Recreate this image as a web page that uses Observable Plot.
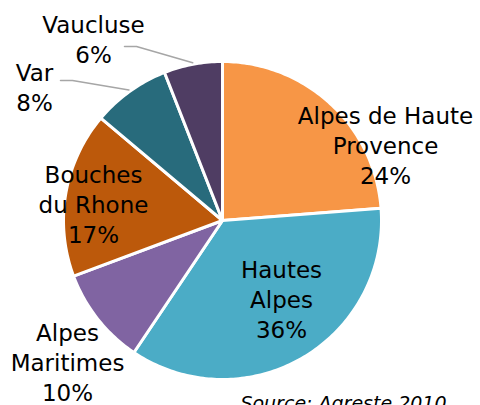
<!DOCTYPE html>
<html><head><meta charset="utf-8">
<script src="https://cdn.jsdelivr.net/npm/d3@7"></script>
<script src="https://cdn.jsdelivr.net/npm/@observablehq/plot@0.6"></script>
<style>body{margin:0;background:#fff}</style>
</head><body><div id="chart"></div>
<script>
const names = ["Alpes de Haute Provence","Hautes Alpes","Alpes Maritimes","Bouches du Rhone","Var","Vaucluse"];
const labelNames = ["Alpes de Haute\nProvence","Hautes\nAlpes","Alpes\nMaritimes","Bouches\ndu Rhone","Var","Vaucluse"];
const values = [24,36,10,17,8,6];
const colors = ["#F79646","#4BACC6","#8064A2","#BC590B","#286B7C","#4F3D63"];
const source = "Source: Agreste 2010";

// layout (pixel positions of label centres, leader starts)
const cx = 222, cy = 220, R = 159;
const labelPx = [[385,144],[281,298],[67,361],[93,203],[34,86],[93,38]];
const leaderStartPx = [null,null,null,null,[60,80],[124,46]];
const toU = ([px,py]) => [(px-cx)/R, (cy-py)/R];

const total = d3.sum(values);
let cum = 0;
const slices = values.map((v,i) => {
  const a0 = cum/total*2*Math.PI; cum += v;
  const a1 = cum/total*2*Math.PI;
  return {name: names[i], a0, a1, mid:(a0+a1)/2, value:v};
});
const pts = [];
for (const s of slices) {
  pts.push({name:s.name, x:0, y:0});
  const n = Math.max(2, Math.ceil((s.a1-s.a0)/(Math.PI/180)));
  for (let k=0;k<=n;k++){ const a = s.a0 + (s.a1-s.a0)*k/n; pts.push({name:s.name, x:Math.sin(a), y:Math.cos(a)}); }
  pts.push({name:s.name, x:0, y:0});
}
const labels = slices.map((s,i) => { const [x,y] = toU(labelPx[i]); return {x,y,text: labelNames[i]+"\n"+s.value+"%"}; });
const leaders = [];
slices.forEach((s,i) => {
  if (!leaderStartPx[i]) return;
  const [x0,y0] = toU(leaderStartPx[i]);
  leaders.push({id:i,x:x0,y:y0});
  leaders.push({id:i,x:x0+12/R,y:y0});
  leaders.push({id:i,x:Math.sin(s.mid)*1.01,y:Math.cos(s.mid)*1.01});
});

const chart = Plot.plot({
  width:480, height:405, margin:0,
  style:{fontFamily:"DejaVu Sans", background:"#fff"},
  x:{domain:[-1,1], range:[cx-R,cx+R], axis:null},
  y:{domain:[-1,1], range:[cy+R,cy-R], axis:null},
  color:{domain:names, range:colors},
  marks:[
    Plot.line(pts,{x:"x",y:"y",z:"name",fill:"name",stroke:"#fff",strokeWidth:3,strokeLinejoin:"round"}),
    Plot.line(leaders,{x:"x",y:"y",z:"id",stroke:"#A6A6A6",strokeWidth:1.5}),
    Plot.text(labels,{x:"x",y:"y",text:"text",fontSize:23,lineHeight:1.3,fill:"#000",lineAnchor:"middle"}),
    Plot.text([source],{frameAnchor:"bottom-right",text:d=>d,dx:-34,dy:4,textAnchor:"end",lineAnchor:"bottom",fontSize:19,fontStyle:"italic",fill:"#000"})
  ]
});
document.getElementById("chart").append(chart);
</script></body></html>
